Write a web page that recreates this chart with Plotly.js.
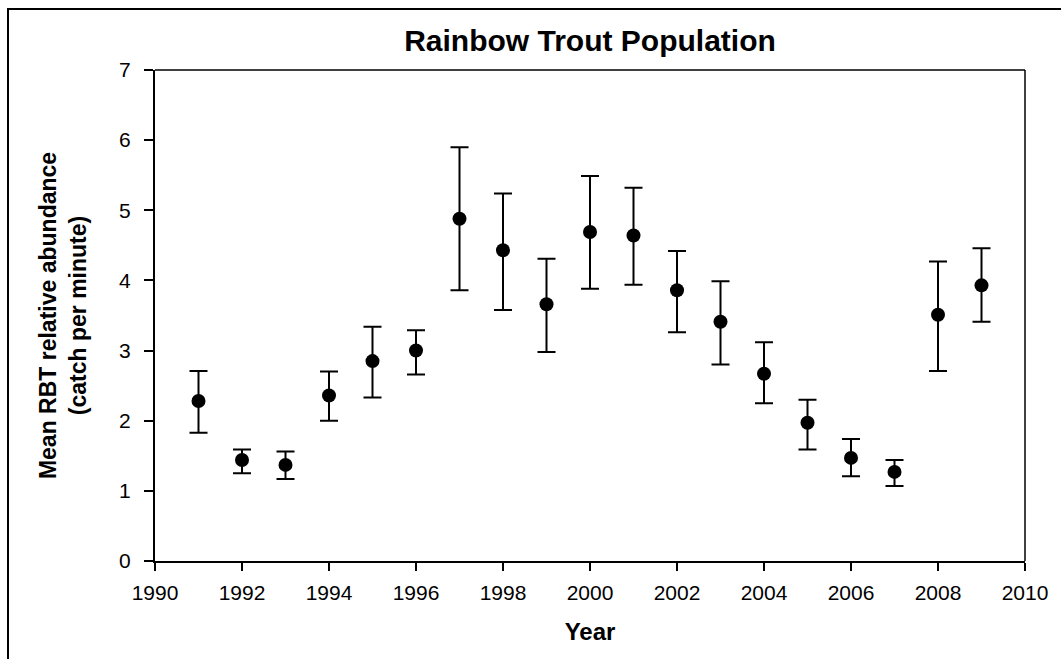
<!DOCTYPE html>
<html>
<head>
<meta charset="utf-8">
<script src="https://cdn.plot.ly/plotly-3.0.1.min.js"></script>
<style>
  html, body { margin: 0; padding: 0; background: #fff; }
  #wrap { position: relative; width: 1061px; height: 659px; overflow: hidden; }
  #chart { position: absolute; left: 0; top: 0; width: 1061px; height: 659px; }
  #frame { position: absolute; left: 7px; top: 8px; right: -4px; bottom: -4px;
           border-top: 2px solid #000; border-left: 2px solid #000; pointer-events: none; }
</style>
</head>
<body>
<div id="wrap">
  <div id="chart"></div>
  <div id="frame"></div>
</div>
<script>
// Data
const years = [1991, 1992, 1993, 1994, 1995, 1996, 1997, 1998, 1999, 2000,
               2001, 2002, 2003, 2004, 2005, 2006, 2007, 2008, 2009];
const meanAbundance = [2.28, 1.44, 1.37, 2.36, 2.85, 3.00, 4.88, 4.43, 3.66, 4.69,
                       4.64, 3.86, 3.41, 2.67, 1.97, 1.47, 1.27, 3.51, 3.93];
const upperBound = [2.71, 1.59, 1.56, 2.70, 3.34, 3.29, 5.90, 5.24, 4.31, 5.49,
                    5.32, 4.42, 3.99, 3.12, 2.30, 1.74, 1.44, 4.27, 4.46];
const lowerBound = [1.83, 1.25, 1.17, 2.00, 2.33, 2.66, 3.86, 3.58, 2.98, 3.88,
                    3.94, 3.26, 2.80, 2.25, 1.59, 1.21, 1.07, 2.71, 3.41];
const xTickValues = [1990, 1992, 1994, 1996, 1998, 2000, 2002, 2004, 2006, 2008, 2010];
const yTickValues = [0, 1, 2, 3, 4, 5, 6, 7];

const chartTitle = 'Rainbow Trout Population';
const xTitle = 'Year';
const yTitle = 'Mean RBT relative abundance<br>(catch per minute)';

const errPlus = meanAbundance.map((m, i) => upperBound[i] - m);
const errMinus = meanAbundance.map((m, i) => m - lowerBound[i]);

const FONT = '"Liberation Sans", Arial, sans-serif';

const trace = {
  type: 'scatter',
  mode: 'markers',
  x: years,
  y: meanAbundance,
  marker: { color: '#000', size: 14, symbol: 'circle' },
  error_y: {
    type: 'data', symmetric: false,
    array: errPlus, arrayminus: errMinus,
    color: '#000', thickness: 2, width: 9
  },
  hoverinfo: 'x+y'
};

const layout = {
  width: 1061, height: 659,
  paper_bgcolor: '#fff', plot_bgcolor: '#fff',
  margin: { l: 155, r: 36, t: 70, b: 98 },
  showlegend: false,
  font: { family: FONT, color: '#000', size: 18 },
  title: {
    text: chartTitle,
    font: { family: FONT, size: 30, weight: 'bold', color: '#000' },
    xref: 'paper', x: 0.5, xanchor: 'center',
    yref: 'container', y: 0.938, yanchor: 'middle'
  },
  xaxis: {
    range: [1990, 2010], tickvals: xTickValues, ticktext: xTickValues.map(String),
    ticks: 'outside', ticklen: 8, tickwidth: 2, tickcolor: '#000',
    showline: true, linewidth: 2, linecolor: '#000',
    showgrid: false, zeroline: false, automargin: false,
    tickfont: { family: FONT, size: 21 },
    ticklabelstandoff: 4,
    title: { text: xTitle, font: { family: FONT, size: 24, weight: 'bold' }, standoff: 20 }
  },
  yaxis: {
    range: [0, 7], tickvals: yTickValues, ticktext: yTickValues.map(String),
    ticks: 'outside', ticklen: 9, tickwidth: 2, tickcolor: '#000',
    showline: true, linewidth: 2, linecolor: '#000',
    showgrid: false, zeroline: false, automargin: false,
    tickfont: { family: FONT, size: 21 },
    ticklabelstandoff: 9,
    title: { text: yTitle, font: { family: FONT, size: 23, weight: 'bold' }, standoff: 26 }
  },
  shapes: [
    { type: 'line', xref: 'paper', yref: 'paper', x0: 0, x1: 1, y0: 1, y1: 1,
      line: { color: '#000', width: 1.5 } },
    { type: 'line', xref: 'paper', yref: 'paper', x0: 1, x1: 1, y0: 0, y1: 1,
      line: { color: '#000', width: 1.5 } }
  ]
};

Plotly.newPlot('chart', [trace], layout, { displayModeBar: false });
</script>
</body>
</html>
